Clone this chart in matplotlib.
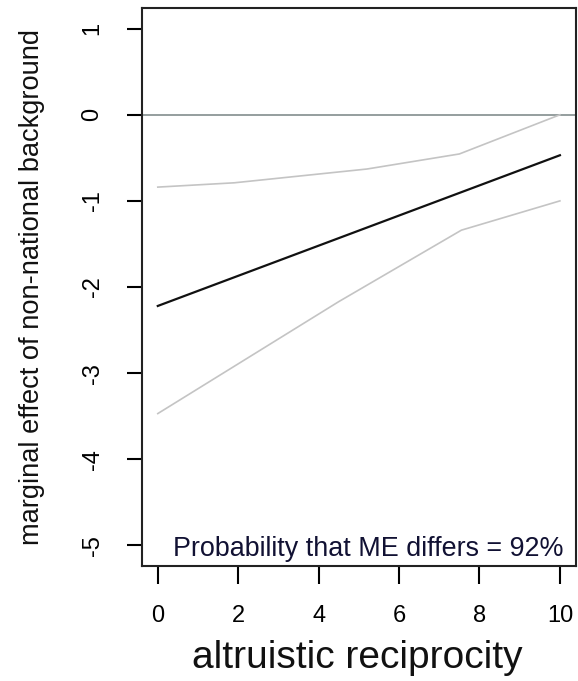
import matplotlib
matplotlib.use("Agg")
import matplotlib.pyplot as plt

plt.rcParams['font.family'] = ['Liberation Sans', 'DejaVu Sans']

# values
x_mean = [0, 10]
y_mean = [-2.22, -0.47]

x_upper = [0, 1.9, 5.2, 7.5, 10]
y_upper = [-0.84, -0.79, -0.63, -0.455, 0.0]

x_lower = [0, 4.5, 7.55, 10]
y_lower = [-3.47, -2.17, -1.34, -1.0]

x_ticks = [0, 2, 4, 6, 8, 10]
y_ticks = [1, 0, -1, -2, -3, -4, -5]
note = "Probability that ME differs = 92%"

W, H = 578, 681
fig = plt.figure(figsize=(W / 100, H / 100), dpi=100)
left, right, top, bottom = 141.7, 576, 8, 566
ax = fig.add_axes([left / W, (H - bottom) / H, (right - left) / W, (bottom - top) / H])

ax.axhline(0, color='#8c9696', lw=1.3, zorder=1)
ax.plot(x_upper, y_upper, color='#c4c4c4', lw=1.2)
ax.plot(x_lower, y_lower, color='#c4c4c4', lw=1.2)
ax.plot(x_mean, y_mean, color='#111111', lw=1.6)

ax.set_xlim(-0.4, 10.4)
ax.set_ylim(-5.24, 1.24)
ax.set_xticks(x_ticks)
ax.set_yticks(y_ticks)
ax.set_yticklabels([str(v) for v in y_ticks], rotation=90, va='center')

for s in ax.spines.values():
    s.set_linewidth(1.5)
    s.set_color('#222222')
ax.tick_params(axis='x', length=13, width=1.5, pad=15, labelsize=17)
ax.tick_params(axis='y', length=10.5, width=1.5, pad=17, labelsize=17)

ax.text(10.1, -5.124, note, ha='right', va='baseline', fontsize=19.4, color='#111133')

fig.text(357 / W, (H - 668) / H, "altruistic reciprocity", ha='center',
         va='baseline', fontsize=28, color='#111111')
fig.text(32 / W, 0.5 * (2 * H - top - bottom) / H,
         "marginal effect of non-national background", rotation=90,
         ha='center', va='center', fontsize=19.6, color='#111111')

fig.savefig("out.png", dpi=100)
